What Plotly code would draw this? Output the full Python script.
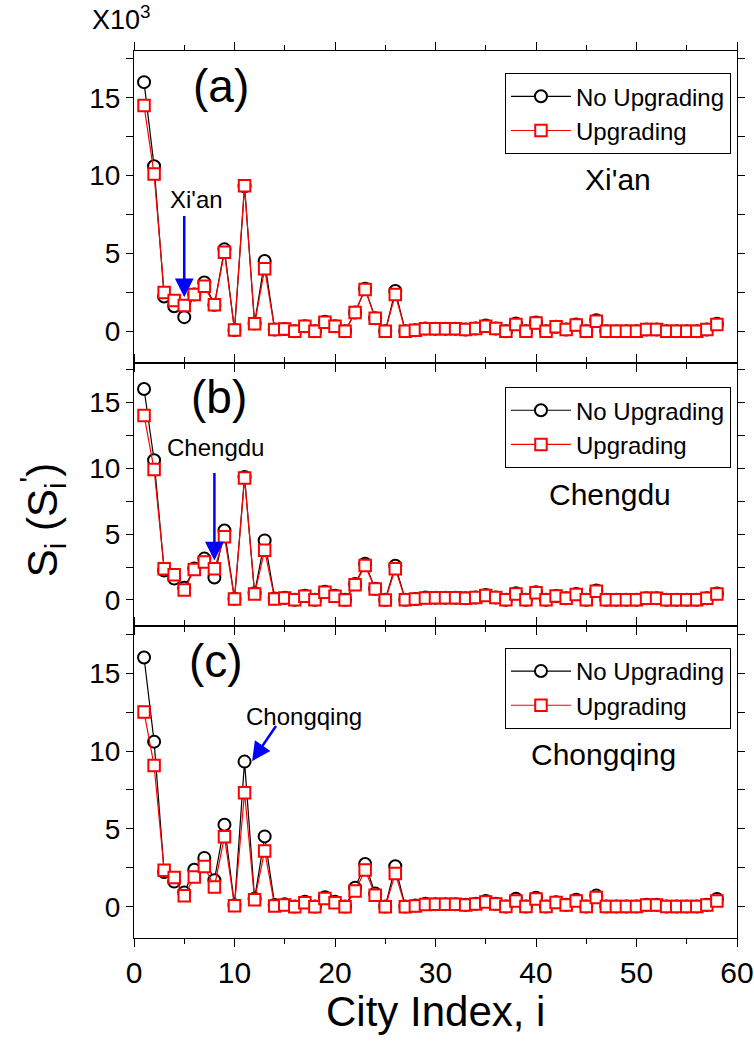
import plotly.graph_objects as go
from plotly.subplots import make_subplots

city_index = list(range(1, 59))

# No upgrading (same baseline in all panels), units of 10^3
s_no_upgrade = [16.0, 10.6, 2.24, 1.62, 0.92, 2.38, 3.14, 1.71, 5.27, 0.10,
                9.32, 0.52, 4.52, 0.12, 0.16, 0.02, 0.33, 0.02, 0.62, 0.33,
                0.02, 1.22, 2.75, 0.85, 0.02, 2.60, 0.02, 0.08, 0.19, 0.17,
                0.17, 0.17, 0.13, 0.19, 0.38, 0.19, 0.02, 0.52, 0.02, 0.58,
                0.02, 0.30, 0.13, 0.45, 0.02, 0.72, 0.02, 0.02, 0.02, 0.02,
                0.13, 0.13, 0.02, 0.02, 0.02, 0.02, 0.13, 0.50]

# Upgrading Xi'an (panel a)
s_up_xian = [14.5, 10.1, 2.50, 1.99, 1.67, 2.37, 2.90, 1.71, 5.08, 0.10,
             9.36, 0.49, 4.02, 0.12, 0.16, 0.02, 0.33, 0.02, 0.60, 0.33,
             0.02, 1.22, 2.69, 0.85, 0.02, 2.37, 0.02, 0.08, 0.17, 0.17,
             0.17, 0.17, 0.13, 0.19, 0.34, 0.19, 0.02, 0.45, 0.02, 0.55,
             0.02, 0.30, 0.13, 0.41, 0.02, 0.66, 0.02, 0.02, 0.02, 0.02,
             0.13, 0.13, 0.02, 0.02, 0.02, 0.02, 0.13, 0.45]

# Upgrading Chengdu (panel b)
s_up_chengdu = [14.0, 9.9, 2.37, 1.91, 0.75, 2.32, 2.88, 2.37, 4.79, 0.08,
                9.26, 0.46, 3.77, 0.08, 0.15, 0.02, 0.28, 0.02, 0.58, 0.28,
                0.00, 1.15, 2.62, 0.84, 0.00, 2.37, 0.02, 0.08, 0.15, 0.17,
                0.17, 0.17, 0.13, 0.19, 0.34, 0.19, 0.02, 0.45, 0.02, 0.55,
                0.02, 0.30, 0.13, 0.41, 0.02, 0.66, 0.02, 0.02, 0.02, 0.02,
                0.13, 0.13, 0.02, 0.02, 0.02, 0.02, 0.13, 0.45]

# Upgrading Chongqing (panel c)
s_up_chongqing = [12.5, 9.07, 2.35, 1.88, 0.71, 1.92, 2.59, 1.28, 4.50, 0.07,
                  7.32, 0.45, 3.59, 0.06, 0.11, 0.00, 0.26, 0.00, 0.53, 0.26,
                  0.00, 1.02, 2.37, 0.75, 0.00, 2.14, 0.00, 0.06, 0.15, 0.16,
                  0.16, 0.16, 0.12, 0.18, 0.31, 0.18, 0.02, 0.38, 0.02, 0.50,
                  0.02, 0.28, 0.12, 0.38, 0.02, 0.60, 0.02, 0.02, 0.02, 0.02,
                  0.12, 0.12, 0.02, 0.02, 0.02, 0.02, 0.12, 0.38]

panel_labels = ["(a)", "(b)", "(c)"]
city_names = ["Xi'an", "Chengdu", "Chongqing"]
upgrade_series = [s_up_xian, s_up_chengdu, s_up_chongqing]
legend_names = ["legend", "legend2", "legend3"]

FONT = "Arial, Liberation Sans, sans-serif"

fig = make_subplots(rows=3, cols=1, shared_xaxes=True, vertical_spacing=0,
                    row_heights=[312, 264, 312])

for r in range(3):
    fig.add_trace(go.Scatter(
        x=city_index, y=s_no_upgrade, mode="lines+markers", name="No Upgrading",
        line=dict(color="black", width=1.2),
        marker=dict(symbol="circle", size=12, color="white",
                    line=dict(color="black", width=2)),
        legend=legend_names[r], showlegend=True), row=r + 1, col=1)
    fig.add_trace(go.Scatter(
        x=city_index, y=upgrade_series[r], mode="lines+markers", name="Upgrading",
        line=dict(color="red", width=1.2),
        marker=dict(symbol="square", size=11.5, color="white",
                    line=dict(color="red", width=2)),
        legend=legend_names[r], showlegend=True), row=r + 1, col=1)

axis_common = dict(showline=True, linecolor="black", linewidth=1.2, mirror="ticks",
                   ticks="outside", tickcolor="black", tickwidth=1.2,
                   showgrid=False, zeroline=False, automargin=False,
                   tickfont=dict(family=FONT, size=28, color="black"))

for r in range(1, 4):
    fig.update_xaxes(range=[0, 60], dtick=10, tick0=0, ticklen=8,
                     minor=dict(dtick=5, ticks="outside", ticklen=5, tickcolor="black"),
                     row=r, col=1, **{**axis_common, "tickfont": dict(family=FONT, size=30, color="black")})
    fig.update_yaxes(range=[-2, 18], dtick=5, tick0=0, ticklen=7,
                     minor=dict(dtick=2.5, tick0=0, ticks="outside", ticklen=7, tickcolor="black"),
                     row=r, col=1, **axis_common)

legend_style = dict(font=dict(family=FONT, size=24, color="black"),
                    bgcolor="white", bordercolor="black", borderwidth=1,
                    xanchor="right", yanchor="top", x=0.99,
                    tracegroupgap=0, itemwidth=60)

fig.update_layout(
    width=754, height=1046,
    margin=dict(l=134, r=17, t=51, b=108, autoexpand=False),
    plot_bgcolor="white", paper_bgcolor="white",
    font=dict(family=FONT, color="black"),
    legend={**legend_style, "y": 0.975},
    legend2={**legend_style, "y": 0.621},
    legend3={**legend_style, "y": 0.327},
)

refs = [("x", "y"), ("x2", "y2"), ("x3", "y3")]
label_pos = [(8.7, 15.75), (8.5, 15.4), (8.2, 15.8)]
city_pos = [(48.2, 9.74), (47.4, 7.98), (46.7, 9.78)]
ann = []
for k in range(3):
    xr, yr = refs[k]
    ann.append(dict(x=label_pos[k][0], y=label_pos[k][1], xref=xr, yref=yr,
                    text=panel_labels[k], showarrow=False,
                    font=dict(family=FONT, size=46, color="black")))
    ann.append(dict(x=city_pos[k][0], y=city_pos[k][1], xref=xr, yref=yr,
                    text=city_names[k], showarrow=False,
                    font=dict(family=FONT, size=30, color="black")))

# arrows & pointer labels
ann.append(dict(x=6.2, y=8.46, xref="x", yref="y", text="Xi'an", showarrow=False,
                font=dict(family=FONT, size=24, color="black")))
ann.append(dict(x=5, y=2.2, ax=5, ay=7.5, xref="x", yref="y", axref="x", ayref="y",
                text="", showarrow=True, arrowhead=2, arrowsize=1.5, arrowwidth=2.5,
                arrowcolor="blue"))
ann.append(dict(x=8.06, y=11.58, xref="x2", yref="y2", text="Chengdu", showarrow=False,
                font=dict(family=FONT, size=24, color="black")))
ann.append(dict(x=8, y=3.0, ax=8, ay=9.74, xref="x2", yref="y2", axref="x2", ayref="y2",
                text="", showarrow=True, arrowhead=2, arrowsize=1.5, arrowwidth=2.5,
                arrowcolor="blue"))
ann.append(dict(x=16.9, y=12.2, xref="x3", yref="y3", text="Chongqing", showarrow=False,
                font=dict(family=FONT, size=24, color="black")))
ann.append(dict(x=11.75, y=9.35, ax=14.23, ay=11.7, xref="x3", yref="y3", axref="x3", ayref="y3",
                text="", showarrow=True, arrowhead=2, arrowsize=1.5, arrowwidth=2.5,
                arrowcolor="blue"))

# axis titles and multiplier
ann.append(dict(x=-0.1526, y=0.471, xref="paper", yref="paper", textangle=-90,
                text="S<sub>i</sub> (S<sub>i</sub><sup>'</sup>)", showarrow=False,
                xanchor="center", yanchor="middle",
                font=dict(family=FONT, size=42, color="black")))
ann.append(dict(x=0.5, y=-0.083, xref="paper", yref="paper",
                text="City Index, i", showarrow=False, xanchor="center", yanchor="middle",
                font=dict(family=FONT, size=42, color="black")))
ann.append(dict(x=-0.02, y=1.037, xref="paper", yref="paper",
                text="X10<sup>3</sup>", showarrow=False, xanchor="center", yanchor="middle",
                font=dict(family=FONT, size=27, color="black")))

fig.update_layout(annotations=ann)

fig.write_html("out.html", config={"displayModeBar": False},
               post_script="document.body.style.margin='0';")
